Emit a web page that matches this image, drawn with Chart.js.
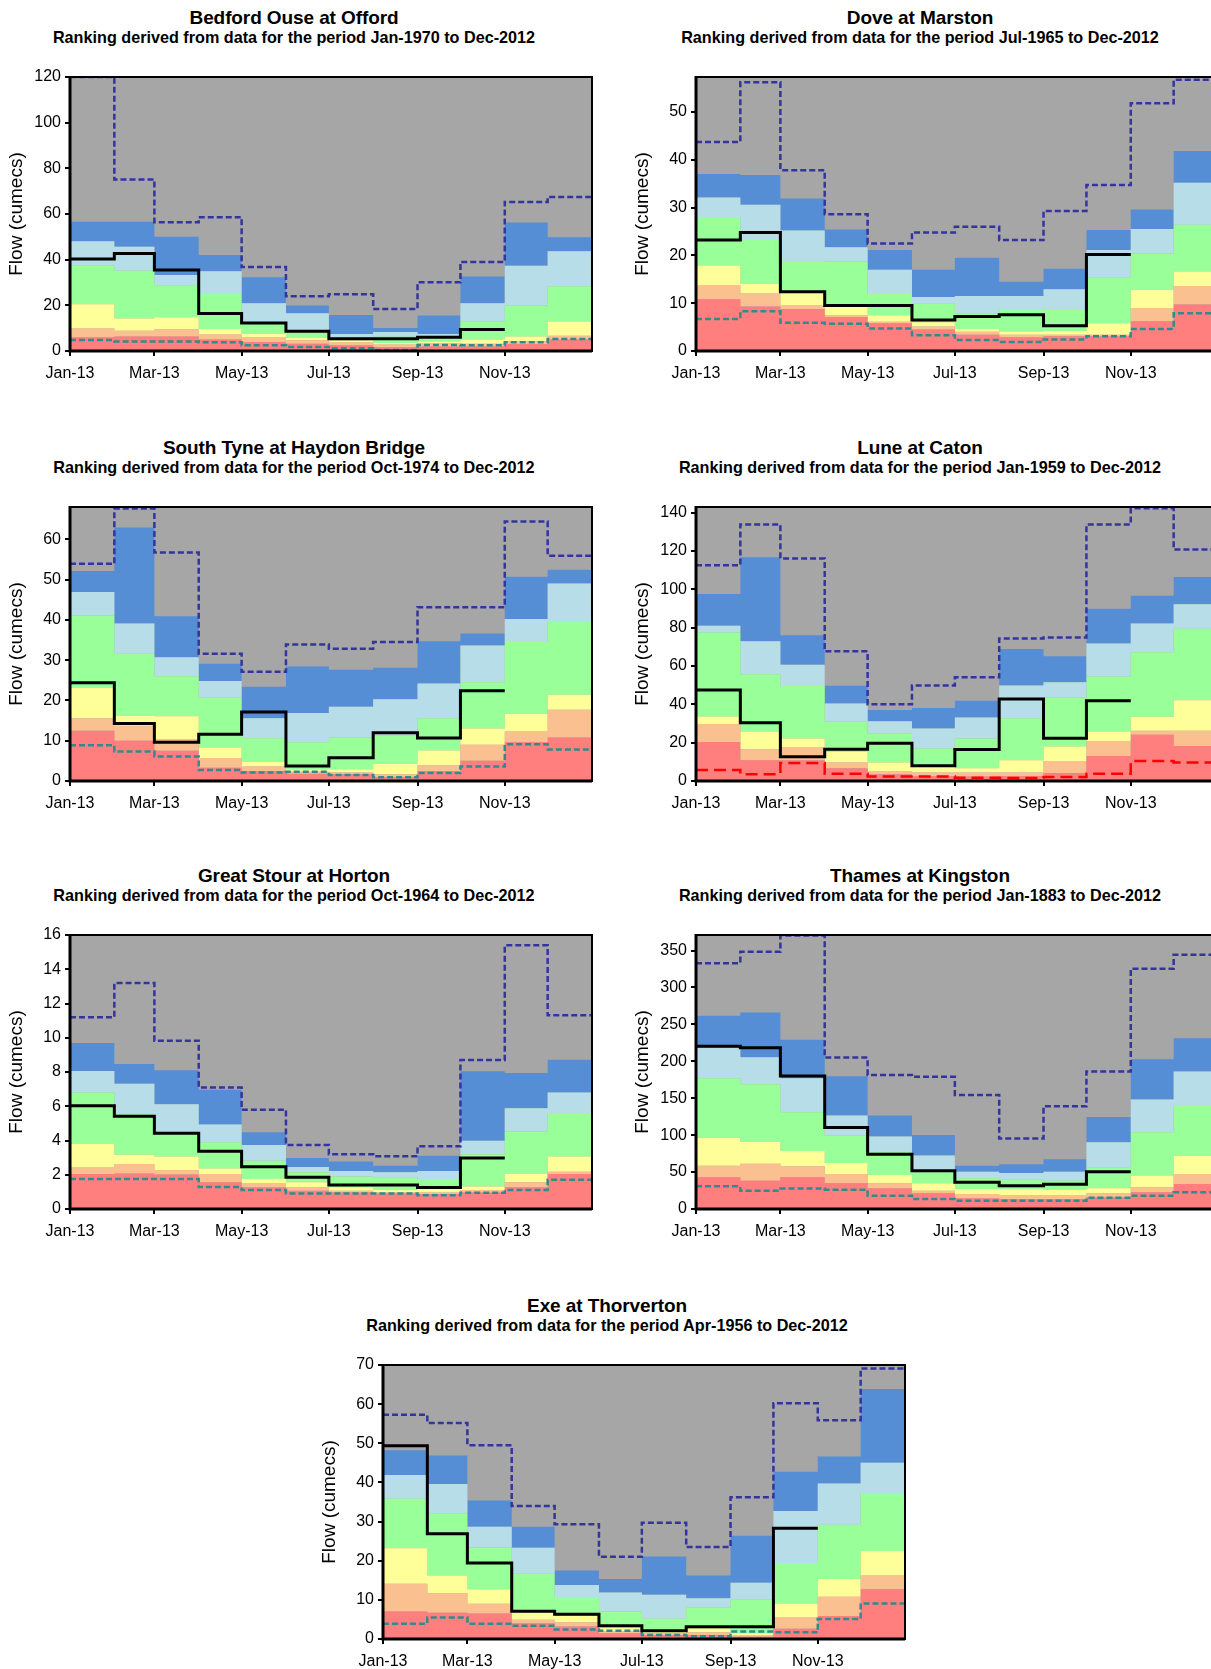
<!DOCTYPE html>
<html lang="en">
<head>
  <meta charset="UTF-8">
  <title>Monthly flow rankings 2013</title>
  <style>
    body {
      margin: 0;
      padding: 0;
      background: #fff;
      font-family: "Liberation Sans", Arial, sans-serif;
    }
    .page {
      position: relative;
      width: 1211px;
      height: 1669px;
      overflow: hidden;
    }
    .panel-title, .panel-sub {
      position: absolute;
      width: 620px;
      text-align: center;
      font-weight: bold;
      color: #000;
      white-space: nowrap;
    }
    .panel-title { font-size: 19px; line-height: 20px; letter-spacing: -0.1px; }
    .panel-sub { font-size: 16.2px; line-height: 18px; }
    canvas { position: absolute; }
  </style>
</head>
<body>
<div class="page" id="page"></div>

<script src="https://cdn.jsdelivr.net/npm/chart.js"></script>
<script>
  // month start (day of year) and the ticks shown on the x axis
  const monthStarts = [0, 31, 59, 90, 120, 151, 181, 212, 243, 273, 304, 334];
  const yearEnd = 365;
  const tickDays = [0, 59, 120, 181, 243, 304];
  const tickLabels = ['Jan-13', 'Mar-13', 'May-13', 'Jul-13', 'Sep-13', 'Nov-13'];

  // Bedford Ouse at Offord
  const bedRed    = [6, 6.4, 6.4, 5, 3.9, 3.2, 2.5, 1.8, 2, 2, 3.1, 5];
  const bedSalmon = [9.8, 8.9, 9.5, 7.2, 6.1, 4.7, 3.9, 2.8, 3.5, 3.2, 4.2, 6.7];
  const bedYellow = [20.5, 14.2, 14.8, 9.6, 7.5, 5.7, 4.7, 3.5, 4.2, 5, 6.4, 12.9];
  const bedGreen  = [37.6, 35.2, 28.8, 25.4, 11.8, 9, 6, 6.2, 6.3, 13, 19.9, 28.4];
  const bedLtBlue = [48.1, 45.7, 33.3, 34.9, 20.9, 16.5, 7.5, 8.3, 7.5, 20.9, 37.3, 43.7];
  const bedBlue   = [56.6, 56.6, 50, 42, 32.3, 19.9, 15.8, 10.1, 15.5, 32.6, 56.3, 49.8];
  const bedMax    = [120, 75.1, 56.4, 58.6, 36.8, 24, 24.8, 18.4, 30.1, 39, 65.3, 67.5];
  const bedMin    = [4.8, 4.2, 4.2, 3.8, 2.5, 1.8, 1.2, 0.4, 2.6, 2.5, 3.8, 5.3];
  const bedFlow   = [40.3, 42.7, 35.5, 16.4, 12.3, 8.6, 5.4, 5.4, 6, 9.4];

  // Dove at Marston
  const doveRed    = [10.8, 9.3, 8.8, 7.1, 5.8, 4.5, 3.4, 2.9, 3.1, 3.1, 6.2, 9.7];
  const doveSalmon = [13.8, 12, 9.5, 7.5, 6.1, 5.1, 4, 3.4, 3.4, 3.4, 9, 13.6];
  const doveYellow = [17.9, 14, 12.4, 9.5, 7.5, 6, 4.6, 4.1, 4.2, 5.8, 12.8, 16.6];
  const doveGreen  = [28, 23.2, 18.6, 18.7, 11.9, 10, 7.9, 8.8, 8.6, 15.4, 20.4, 26.4];
  const doveLtBlue = [32.1, 30.6, 25.2, 21.7, 17, 11.3, 11.5, 11.5, 12.9, 21.1, 25.5, 35.2];
  const doveBlue   = [37, 36.8, 31.9, 25.4, 21.1, 17, 19.5, 14.5, 17.2, 25.3, 29.6, 41.8];
  const doveMax    = [43.7, 56.2, 37.8, 28.6, 22.5, 24.8, 26, 23.2, 29.3, 34.7, 51.8, 56.7];
  const doveMin    = [6.7, 8.3, 5.9, 5.7, 4.7, 3.3, 2.3, 1.9, 2.4, 3.1, 4.6, 7.9];
  const doveFlow   = [23.2, 24.8, 12.4, 9.5, 9.5, 6.5, 7.2, 7.6, 5.3, 20.2];

  // South Tyne at Haydon Bridge
  const tyneRed    = [12.5, 10, 7.5, 3.3, 2.5, 1.8, 1.7, 1, 2.5, 5, 9.6, 10.8];
  const tyneSalmon = [15.6, 13.7, 10.4, 5.7, 3.6, 2.3, 2.1, 1.7, 3.9, 9, 12.3, 17.7];
  const tyneYellow = [23.1, 16.2, 16.1, 8.3, 4.7, 2.9, 2.9, 4.3, 7.6, 13, 16.6, 21.4];
  const tyneGreen  = [41.1, 31.6, 26, 20.7, 10.6, 9.6, 10.8, 11.2, 15.6, 24.5, 34.5, 39.7];
  const tyneLtBlue = [46.9, 39.1, 30.7, 24.8, 15.6, 16.9, 18.4, 20.3, 24.2, 33.6, 40.2, 49];
  const tyneBlue   = [52.1, 62.9, 40.9, 29.1, 23.4, 28.4, 27.6, 28.1, 34.7, 36.6, 50.7, 52.4];
  const tyneMax    = [53.9, 67.6, 56.7, 31.6, 27.1, 33.9, 32.8, 34.5, 43.1, 43.1, 64.4, 55.9];
  const tyneMin    = [8.9, 7.3, 6.1, 2.7, 2.1, 2.3, 1.5, 0.9, 2, 3.6, 9.1, 7.8];
  const tyneFlow   = [24.4, 14.3, 9.6, 11.6, 17.1, 3.7, 5.8, 12, 10.7, 22.4];

  // Lune at Caton
  const luneRed    = [20.4, 10.8, 10.8, 6.6, 3.5, 2.6, 2.3, 2.6, 4.2, 13.1, 24.1, 18.3];
  const luneSalmon = [29.7, 16.6, 17.8, 9.6, 4.9, 4.4, 4.4, 4.4, 10.5, 20.9, 26.2, 26.2];
  const luneYellow = [33.7, 25.8, 22.2, 15.2, 9.6, 7.3, 6.6, 10.8, 18, 25.8, 33.5, 42.2];
  const luneGreen  = [77.5, 55.7, 49.6, 30.9, 24.8, 16.9, 22.2, 32.8, 43.6, 54.6, 67.2, 79.4];
  const luneLtBlue = [81, 73, 60.7, 40.5, 31.2, 27.4, 33.2, 49.9, 51.5, 71.7, 82.2, 92.2];
  const luneBlue   = [97.6, 116.8, 76.1, 49.7, 37, 38.1, 41.9, 68.9, 65.1, 89.9, 96.7, 106.5];
  const luneMax    = [112.6, 133.9, 116.1, 67.7, 40.1, 49.9, 54.1, 74.4, 74.9, 133.9, 142.3, 120.8];
  const luneMin    = [5.8, 3.5, 9.4, 3.8, 2.3, 2.3, 1.7, 1.6, 2.1, 3.8, 10.5, 9.6];
  const luneFlow   = [47.5, 30.4, 12.6, 16.6, 19.7, 7.9, 16.4, 42.8, 22.3, 41.9];

  // Great Stour at Horton
  const stourRed    = [2.04, 2.08, 2.02, 1.56, 1.27, 1.07, 0.97, 0.91, 0.88, 0.97, 1.27, 2.04];
  const stourSalmon = [2.43, 2.63, 2.28, 2.04, 1.52, 1.27, 1.07, 0.97, 0.97, 1.11, 1.56, 2.18];
  const stourYellow = [3.8, 3.17, 3.06, 2.37, 1.75, 1.56, 1.27, 1.13, 1.17, 1.32, 2.04, 3.06];
  const stourGreen  = [6.81, 5.53, 4.5, 3.9, 2.82, 2.14, 1.9, 1.85, 1.75, 3.2, 4.52, 5.55];
  const stourLtBlue = [8.06, 7.32, 6.11, 4.94, 3.74, 2.45, 2.22, 2.14, 2.22, 3.99, 5.88, 6.81];
  const stourBlue   = [9.7, 8.47, 8.1, 6.97, 4.48, 2.98, 2.78, 2.53, 3.11, 8.04, 7.94, 8.72];
  const stourMax    = [11.19, 13.2, 9.83, 7.09, 5.8, 3.74, 3.19, 3.08, 3.66, 8.7, 15.4, 11.31];
  const stourMin    = [1.75, 1.75, 1.75, 1.28, 1.11, 0.9, 0.9, 0.9, 0.8, 0.95, 1.11, 1.71];
  const stourFlow   = [6.03, 5.41, 4.42, 3.37, 2.47, 1.85, 1.4, 1.4, 1.25, 2.98];

  // Thames at Kingston
  const thamesRed    = [42.9, 38.4, 42.9, 35.2, 28, 21.2, 14.5, 13.6, 13.6, 15.8, 22.6, 33.9];
  const thamesSalmon = [58.7, 61.4, 57.8, 47.4, 34.8, 24.8, 20.3, 19, 19, 21.2, 29.4, 47.4];
  const thamesYellow = [96.2, 91.2, 78.6, 62.3, 46.1, 34.8, 27.1, 27.1, 25.7, 28, 45.2, 71.8];
  const thamesGreen  = [177, 168.9, 131, 99.4, 76.8, 49.7, 41.6, 39.7, 38.4, 56.5, 103.9, 139.6];
  const thamesLtBlue = [218.6, 205.5, 177, 126.5, 98, 72.3, 50.6, 48.8, 50.6, 90.3, 148.2, 186.1];
  const thamesBlue   = [261.5, 266, 229, 179.8, 126.5, 100.3, 58.7, 60.5, 67.3, 124.7, 202.8, 231.3];
  const thamesMax    = [332.9, 348.2, 370.3, 205, 181.6, 178.9, 154.5, 95.3, 139.1, 186.1, 325.2, 344.2];
  const thamesMin    = [30.7, 24.8, 27.6, 26.2, 18.1, 13.6, 11.3, 11.3, 11.3, 15.4, 18.1, 22.6];
  const thamesFlow   = [220.4, 218.2, 180.2, 110.2, 74.1, 51.9, 36.1, 31.6, 33.4, 50.6];

  // Exe at Thorverton
  const exeRed    = [7, 6.7, 6.5, 4, 3.2, 1.45, 1, 1, 0.6, 2.6, 5.9, 12.8];
  const exeSalmon = [14.1, 11.7, 9, 4.9, 4.3, 1.9, 1.45, 1.7, 1, 5.6, 10.8, 16.2];
  const exeYellow = [23.2, 16.2, 12.7, 7.2, 5.9, 3, 2.3, 2.7, 1.45, 9.1, 15.3, 22.5];
  const exeGreen  = [35.8, 32.1, 23.4, 16.7, 10.7, 7, 5.2, 8, 10, 19.4, 29.2, 37.3];
  const exeLtBlue = [41.9, 39.6, 28.7, 23.3, 13.8, 11.9, 11.3, 10.4, 14.4, 32.7, 39.7, 45];
  const exeBlue   = [48.2, 46.9, 35.4, 28.7, 17.5, 15.3, 21.1, 16.2, 26.4, 42.7, 46.6, 63.9];
  const exeMax    = [57.3, 55.2, 49.5, 34, 29.3, 21, 29.7, 23.5, 36.2, 60.2, 55.9, 69.1];
  const exeMin    = [3.9, 5.5, 3.9, 3.4, 2.4, 2.1, 1, 0.7, 1.9, 1.7, 5.1, 9.1];
  const exeFlow   = [49.4, 26.9, 19.4, 7.1, 6.3, 3.4, 2.1, 3.1, 3.1, 28.3];

  const bandColors = ['#ff7f7f', '#fac090', '#ffff99', '#99ff99', '#b7dee8', '#558ed5'];
  const greyBack = '#a6a6a6';
  const fontFam = '"Liberation Sans", Arial, sans-serif';

  const PLOT_W = 522, PLOT_H = 274, AXIS_W = 70, PAD_T = 10, PAD_R = 8, XAXIS_H = 34;

  const panels = [
    { title: 'Bedford Ouse at Offord', period: 'Jan-1970 to Dec-2012', x: 70, y: 77, yMax: 120, step: 20,
      bands: [bedRed, bedSalmon, bedYellow, bedGreen, bedLtBlue, bedBlue], max: bedMax, min: bedMin, flow: bedFlow },
    { title: 'Dove at Marston', period: 'Jul-1965 to Dec-2012', x: 696, y: 77, yMax: 57.3, step: 10,
      bands: [doveRed, doveSalmon, doveYellow, doveGreen, doveLtBlue, doveBlue], max: doveMax, min: doveMin, flow: doveFlow },
    { title: 'South Tyne at Haydon Bridge', period: 'Oct-1974 to Dec-2012', x: 70, y: 507, yMax: 68, step: 10,
      bands: [tyneRed, tyneSalmon, tyneYellow, tyneGreen, tyneLtBlue, tyneBlue], max: tyneMax, min: tyneMin, flow: tyneFlow },
    { title: 'Lune at Caton', period: 'Jan-1959 to Dec-2012', x: 696, y: 507, yMax: 143, step: 20,
      bands: [luneRed, luneSalmon, luneYellow, luneGreen, luneLtBlue, luneBlue], max: luneMax, min: luneMin, flow: luneFlow,
      minRed: true },
    { title: 'Great Stour at Horton', period: 'Oct-1964 to Dec-2012', x: 70, y: 935, yMax: 16, step: 2,
      bands: [stourRed, stourSalmon, stourYellow, stourGreen, stourLtBlue, stourBlue], max: stourMax, min: stourMin, flow: stourFlow },
    { title: 'Thames at Kingston', period: 'Jan-1883 to Dec-2012', x: 696, y: 935, yMax: 371, step: 50,
      bands: [thamesRed, thamesSalmon, thamesYellow, thamesGreen, thamesLtBlue, thamesBlue], max: thamesMax, min: thamesMin, flow: thamesFlow },
    { title: 'Exe at Thorverton', period: 'Apr-1956 to Dec-2012', x: 383, y: 1365, yMax: 70, step: 10,
      bands: [exeRed, exeSalmon, exeYellow, exeGreen, exeLtBlue, exeBlue], max: exeMax, min: exeMin, flow: exeFlow }
  ];

  // month values -> stepped points, last value carried to the end of its month
  function toPoints(vals) {
    const pts = vals.map((v, i) => ({ x: monthStarts[i], y: v }));
    const endX = vals.length < 12 ? monthStarts[vals.length] : yearEnd;
    pts.push({ x: endX, y: vals[vals.length - 1] });
    return pts;
  }

  // keep the plot box fixed: no extra room for half tick labels
  function noPad(sc) {
    sc.paddingTop = 0; sc.paddingBottom = 0; sc.paddingLeft = 0; sc.paddingRight = 0;
  }

  // grey plot area + black frame
  const plotFrame = {
    id: 'plotFrame',
    beforeDatasetsDraw(chart) {
      const a = chart.chartArea, ctx = chart.ctx;
      ctx.save();
      ctx.fillStyle = greyBack;
      ctx.fillRect(a.left, a.top, a.right - a.left, a.bottom - a.top);
      ctx.restore();
    },
    afterDatasetsDraw(chart) {
      const a = chart.chartArea, ctx = chart.ctx;
      ctx.save();
      ctx.strokeStyle = '#000';
      ctx.lineWidth = 2;
      ctx.strokeRect(a.left, a.top, a.right - a.left, a.bottom - a.top);
      ctx.lineWidth = 3;
      ctx.beginPath();
      ctx.moveTo(a.left, a.top - 1);
      ctx.lineTo(a.left, a.bottom);
      ctx.lineTo(a.right, a.bottom);
      ctx.stroke();
      ctx.restore();
    }
  };

  const page = document.getElementById('page');

  panels.forEach(p => {
    // titles
    const centre = p.x - AXIS_W + 294;
    const t = document.createElement('div');
    t.className = 'panel-title';
    t.textContent = p.title;
    t.style.left = (centre - 310) + 'px';
    t.style.top = (p.y - 69) + 'px';
    page.appendChild(t);
    const s = document.createElement('div');
    s.className = 'panel-sub';
    s.textContent = 'Ranking derived from data for the period ' + p.period;
    s.style.left = (centre - 310) + 'px';
    s.style.top = (p.y - 49) + 'px';
    page.appendChild(s);

    const cv = document.createElement('canvas');
    const w = AXIS_W + PLOT_W + PAD_R, h = PAD_T + PLOT_H + XAXIS_H;
    cv.width = w; cv.height = h;
    cv.style.width = w + 'px'; cv.style.height = h + 'px';
    cv.style.left = (p.x - AXIS_W) + 'px';
    cv.style.top = (p.y - PAD_T) + 'px';
    page.appendChild(cv);

    const datasets = p.bands.map((vals, i) => ({
      data: toPoints(vals),
      backgroundColor: bandColors[i],
      borderColor: 'rgba(0,0,0,0)',
      borderWidth: 0,
      fill: i === 0 ? 'origin' : '-1',
      stepped: true,
      pointRadius: 0,
      order: 2
    }));
    datasets.push({
      data: toPoints(p.max), borderColor: '#34349e', borderWidth: 2.5, borderDash: [6, 3],
      fill: false, stepped: true, pointRadius: 0, order: 1
    });
    datasets.push({
      data: toPoints(p.min),
      borderColor: p.minRed ? '#ff0000' : '#2f8b8f',
      borderWidth: 2.5,
      borderDash: p.minRed ? [12, 6] : [6, 3],
      fill: false, stepped: true, pointRadius: 0, order: 1
    });
    datasets.push({
      data: toPoints(p.flow), borderColor: '#000', borderWidth: 3,
      fill: false, stepped: true, pointRadius: 0, order: 0
    });

    new Chart(cv.getContext('2d'), {
      type: 'line',
      data: { datasets: datasets },
      plugins: [plotFrame],
      options: {
        responsive: false,
        animation: false,
        devicePixelRatio: 1,
        layout: { padding: { top: PAD_T, right: PAD_R, left: 0, bottom: 0 } },
        plugins: { legend: { display: false }, tooltip: { enabled: false }, title: { display: false } },
        scales: {
          x: {
            type: 'linear',
            min: 0,
            max: yearEnd,
            afterFit: sc => { sc.height = XAXIS_H; noPad(sc); },
            afterBuildTicks: sc => { sc.ticks = tickDays.map(v => ({ value: v })); },
            border: { display: false },
            grid: { drawOnChartArea: false, drawTicks: true, tickLength: 5, color: '#000', lineWidth: 2 },
            ticks: {
              autoSkip: false,
              maxRotation: 0,
              padding: 8,
              color: '#000',
              font: { family: fontFam, size: 16 },
              callback: (v) => tickLabels[tickDays.indexOf(v)]
            }
          },
          y: {
            min: 0,
            max: p.yMax,
            afterFit: sc => { sc.width = AXIS_W; noPad(sc); },
            border: { display: false },
            grid: { drawOnChartArea: false, drawTicks: true, tickLength: 5, color: '#000', lineWidth: 2 },
            ticks: {
              stepSize: p.step,
              includeBounds: false,
              padding: 4,
              color: '#000',
              font: { family: fontFam, size: 16 }
            },
            title: {
              display: true,
              text: 'Flow (cumecs)',
              color: '#000',
              font: { family: fontFam, size: 19 },
              padding: { top: 5, bottom: 0 }
            }
          }
        }
      }
    });
  });
</script>
</body>
</html>
